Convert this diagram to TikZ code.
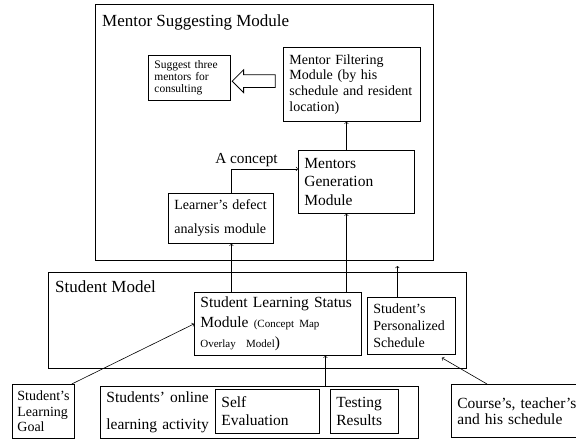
\documentclass[tikz,border=0pt]{standalone}
\usepackage{fontspec}
\setmainfont{Liberation Serif}
\usetikzlibrary{calc,shapes.arrows}

\newcommand{\fsz}[2]{\fontsize{#1}{#2}\selectfont}

\tikzset{
  box/.style={draw, line width=0.8pt, inner xsep=6pt, inner ysep=2pt, align=left, anchor=north west},
  frame/.style={draw, line width=0.9pt, inner sep=0pt, anchor=north west},
  title/.style={anchor=base west, inner sep=0pt, font=\fsz{17}{20}},
  arr/.style={->, line width=0.6pt},
  hollow/.style={single arrow, draw, line width=0.8pt, shape border rotate=180,
    minimum height=43pt, inner sep=6pt, single arrow head extend=5pt},
}

\begin{document}
\begin{tikzpicture}[x=1pt, y=-1pt]

\useasboundingbox (0,0) rectangle (576,439);

% Mentor suggesting module
\node[frame, minimum width=338pt, minimum height=256pt] (msm) at (95,4) {};
\node[title] (msmtitle) at (102,27) {Mentor Suggesting Module};

\node[box, text width=70pt, minimum width=82pt, minimum height=45pt, font=\fsz{11.5}{12}] (suggest) at (148,55)
  {Suggest three\\mentors for\\consulting};
\node[box, text width=125pt, minimum width=137pt, minimum height=74pt, font=\fsz{14}{15.7}] (filter) at (283,47)
  {Mentor Filtering\\Module (by his\\schedule and resident\\location)};
\node[box, text width=104pt, minimum width=116pt, minimum height=63pt, font=\fsz{15.5}{18.3}] (gen) at (298,150)
  {Mentors\\Generation\\Module};
\node[box, text width=93pt, minimum width=105pt, minimum height=50pt, font=\fsz{14}{24}] (defect) at (168,193)
  {Learner’s defect\\analysis module};

% Student model
\node[frame, minimum width=418pt, minimum height=96pt] (sm) at (48,272) {};
\node[title] (smtitle) at (55,292) {Student Model};

\node[box, text width=155pt, minimum width=167pt, minimum height=63pt, font=\fsz{15.5}{20}] (sls) at (194,292)
  {Student Learning Status\\Module {\fsz{11}{20}(Concept Map}\\{\fsz{11}{20}Overlay\ \ Model})};
\node[box, text width=76pt, minimum width=88pt, minimum height=57pt, font=\fsz{14}{16.7}] (sched) at (367,297)
  {Student’s\\Personalized\\Schedule};

% inputs
\node[box, inner xsep=5pt, text width=52pt, minimum width=62pt, minimum height=54pt, font=\fsz{14}{15.3}] (goal) at (12,384)
  {Student’s\\Learning\\Goal};
\node[box, text width=306pt, minimum width=318pt, minimum height=52pt, font=\fsz{15.5}{27}] (online) at (100,386)
  {Students’ online\\learning activity};
\node[box, text width=92pt, minimum width=104pt, minimum height=44pt, font=\fsz{15.5}{18}] (self) at (215,389)
  {Self\\Evaluation};
\node[box, text width=56pt, minimum width=68pt, minimum height=44pt, font=\fsz{15.5}{18}] (test) at (330,389)
  {Testing\\Results};
\node[box, text width=125pt, minimum width=137pt, minimum height=53pt, font=\fsz{15.5}{16}] (course) at (451,384)
  {Course’s, teacher’s\\and his schedule};

% Hollow arrow to the suggestion
\node[hollow] (pointer) at ($(suggest.east)!.5!(filter.west)$) {};

% Connectors
\draw[arr] ([xshift=-10]gen.north) -- ([xshift=-10]gen.north |- filter.south);
\draw[arr] ([xshift=10.5]defect.north) |- ([yshift=13]gen.west);
\node[anchor=base, inner sep=0pt, font=\fsz{15.3}{18}] (concept) at (246.5,163) {A concept};
\draw[arr] ([xshift=10.5]defect.south |- sls.north) -- ([xshift=10.5]defect.south);
\draw[arr] ([xshift=-10]gen.south |- sls.north) -- ([xshift=-10]gen.south);
\coordinate (schedup) at ($(sched.north)+(-14,-31)$);
\draw[arr] ([xshift=-14]sched.north) -- (schedup);
\draw[arr] ([xshift=47.5]sls.south |- online.north) -- ([xshift=47.5]sls.south);
\draw[arr] ([xshift=-3]goal.north east) -- (sls.west);
\draw[arr] ([xshift=36]course.north west) -- ([xshift=-14,yshift=-3]sched.south east);

\end{tikzpicture}
\end{document}
